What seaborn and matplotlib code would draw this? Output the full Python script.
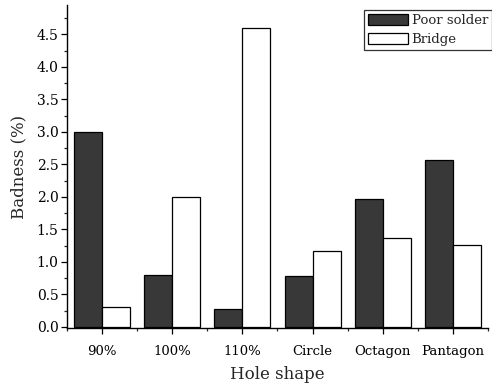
import matplotlib
matplotlib.use("Agg")
import matplotlib.pyplot as plt
import seaborn as sns
import pandas as pd
from matplotlib.ticker import MultipleLocator, FormatStrFormatter

shapes = ["90%", "100%", "110%", "Circle", "Octagon", "Pantagon"]
poor_solder = [3.0, 0.8, 0.28, 0.78, 1.96, 2.56]
bridge = [0.3, 2.0, 4.6, 1.17, 1.36, 1.26]
series = ["Poor solder", "Bridge"]

df = pd.DataFrame({
    "shape": shapes * 2,
    "value": poor_solder + bridge,
    "series": [series[0]] * len(shapes) + [series[1]] * len(shapes),
})

sns.set_theme(style="ticks")
plt.rcParams["font.family"] = ["DejaVu Serif"]

fig = plt.figure(figsize=(4.92, 3.87), dpi=100)
ax = fig.add_axes([0.136, 0.152, 0.856, 0.835])

sns.barplot(data=df, x="shape", y="value", hue="series", order=shapes,
            hue_order=series, palette=["#383838", "#ffffff"],
            width=0.8, edgecolor="black", linewidth=0.9, saturation=1,
            ax=ax)

ax.set_xlim(-0.5, 5.5)
ax.set_ylim(-0.02, 4.95)
ax.yaxis.set_major_locator(MultipleLocator(0.5))
ax.yaxis.set_minor_locator(MultipleLocator(0.25))
ax.yaxis.set_major_formatter(FormatStrFormatter("%.1f"))
ax.set_xticks(range(len(shapes)))
ax.set_xticklabels(shapes)
ax.set_xticks([i + 0.5 for i in range(-1, len(shapes))], minor=True)
ax.tick_params(axis="both", which="major", direction="out", length=4,
               width=0.9, colors="black")
ax.tick_params(axis="both", which="minor", direction="out", length=2.5,
               width=0.9)
ax.tick_params(axis="x", labelsize=9.5, pad=8)
ax.tick_params(axis="y", labelsize=10, pad=2)

for s in ["top", "right"]:
    ax.spines[s].set_visible(False)
for s in ["left", "bottom"]:
    ax.spines[s].set_linewidth(1.0)
    ax.spines[s].set_color("black")

ax.set_xlabel("Hole shape", fontsize=12, labelpad=6)
ax.set_ylabel("Badness (%)", fontsize=12, labelpad=7)

leg = ax.legend(loc="upper right", bbox_to_anchor=(1.0095, 0.985), frameon=True,
                fancybox=False, edgecolor="black", fontsize=9.5,
                handlelength=3.1, handleheight=0.9, handletextpad=0.25,
                borderpad=0.3, labelspacing=0.45, borderaxespad=0.0)
leg.get_frame().set_linewidth(0.9)

fig.savefig("out.png", dpi=100, facecolor="white")
